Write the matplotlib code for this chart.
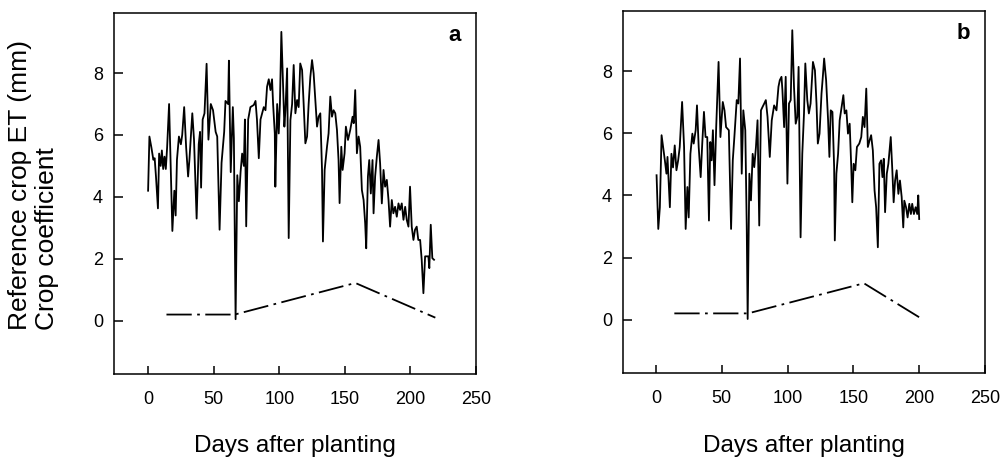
import numpy as np
import matplotlib
matplotlib.use('Agg')
import matplotlib.pyplot as plt

plt.rcParams['font.family'] = ['Liberation Sans', 'DejaVu Sans']

# ---------------- panel a : reference crop ET ----------------
days_a = [0, 1, 2.5, 4, 5, 6, 7.5, 8.4, 9.6, 10.5, 11.5, 12.5, 13.5, 14.5, 16, 18.5, 20, 21, 22, 23.5,
          25, 26, 27.5, 29, 30.5, 31.5, 33.7, 35, 37, 38.6, 39.6, 40.4, 41.6, 43, 44.6, 46, 47.8, 49.5,
          51.5, 52.7, 54.5, 56, 58, 59, 61, 61.6, 63, 64.6, 65.4, 66.7, 68, 69.2, 70.5, 71.7, 73, 73.8,
          74.8, 76.3, 78, 80.6, 81.9, 83, 84.4, 85.7, 88.2, 89.5, 90.7, 92, 93.3, 94.5, 95.3, 96.6, 97,
          98.4, 99.6, 100.5, 101.6, 102.9, 103.9, 104.7, 106, 107.2, 108.5, 109.8, 111, 112.3, 113.6,
          114.8, 116, 117.4, 118.6, 119.9, 121.2, 122.4, 123.7, 125, 126.2, 127.5, 128.8, 130, 131.3,
          132.6, 133.3, 134.6, 136.4, 137.6, 138.9, 140.2, 141.4, 142.7, 144, 145.2, 146, 147.3, 148.3,
          149.8, 150.8, 152.4, 154.1, 155.9, 156.8, 157.9, 159.2, 160.5, 161.7, 163, 164.3, 165.5, 166.3,
          167.6, 168.6, 169.8, 171.1, 171.9, 173.1, 174.4, 175.7, 176.9, 178.2, 179.5, 180.7, 182, 183.3,
          184.5, 185.8, 187, 188.3, 189.6, 190.9, 192.1, 193.4, 194.7, 196, 197.2, 198.5, 199.7, 201,
          202.3, 203.5, 204.8, 206, 207.4, 208.6, 209.9, 211.2, 212.4, 213.7, 214.4, 215.5, 216.7, 218]
et_a = [4.2, 5.95, 5.6, 5.2, 5.25, 4.66, 3.63, 5.4, 5.0, 5.5, 4.9, 5.3, 4.9, 5.6, 7.0, 2.9, 4.2, 3.4, 5.2, 5.95,
        5.7, 6.0, 6.9, 5.6, 4.66, 5.2, 6.7, 5.85, 3.3, 5.7, 6.1, 4.3, 6.5, 6.7, 8.3, 5.85, 7.0, 6.8,
        6.1, 5.95, 2.94, 5.1, 6.1, 7.1, 7.0, 8.4, 4.8, 6.9, 5.9, 0.05, 4.7, 3.86, 4.8, 5.4, 5.0, 6.5,
        3.05, 6.5, 6.9, 6.97, 7.1, 6.5, 5.25, 6.5, 6.9, 6.8, 7.56, 7.8, 7.45, 7.8, 7.0, 6.05, 4.33,
        7.0, 6.05, 7.0, 9.33, 7.56, 6.27, 6.8, 8.15, 2.67, 6.48, 7.0, 8.26, 6.7, 7.13,
        6.9, 8.31, 8.1, 7.0, 5.73, 5.95, 7.0, 7.88, 8.42, 7.99, 7.13, 6.27, 6.59, 6.7,
        4.87, 2.56, 4.87, 5.62, 6.05, 7.24, 6.59, 6.8, 6.7, 6.16, 5.19, 3.8, 5.62, 4.87,
        5.41, 6.27, 5.84, 6.16, 6.59, 6.38, 7.45, 5.41, 5.95, 5.62, 4.22, 3.9, 3.15, 2.34,
        4.66, 5.19, 4.11, 5.19, 3.47, 4.66, 5.3, 5.84, 5.08, 3.79, 4.87, 4.33, 4.55, 3.9,
        3.04, 3.9, 3.47, 3.68, 3.36, 3.79, 3.58, 3.79, 3.26, 3.68, 3.26, 3.04, 4.33, 3.04,
        2.61, 2.94, 3.04, 2.61, 2.61, 1.97, 0.89, 2.08, 2.08, 2.08, 1.7, 3.1, 2.02, 1.97]
kc_days_a = [14, 66, 158, 219]
kc_a = [0.2, 0.2, 1.22, 0.1]

# ---------------- panel b : reference crop ET ----------------
days_b = [0.5, 1.8, 3, 4.3, 5.5, 6.8, 8, 8.8, 10.6, 11.8, 13, 14.3, 15.6, 16.9, 18.1, 19.9, 21.4, 22.6,
          23.9, 24.9, 26.2, 27.7, 28.7, 30.2, 31.2, 32.5, 34, 35.2, 36.5, 37.7, 39, 40.3, 41.3, 42.3,
          43.3, 44.5, 45.8, 47.6, 49, 50.8, 52.1, 53.3, 55.4, 57.1, 58.4, 59.6, 61.4, 62.6, 63.9, 65.2,
          66.4, 67.9, 69, 69.7, 71, 72.2, 73.5, 74.7, 76, 77.2, 78.5, 79.8, 81, 82.3, 83.5, 84.8, 86.5,
          88, 89.8, 91.6, 93.1, 94.1, 95.4, 96.1, 97.4, 98.6, 99.9, 101.1, 102.4, 103.6, 104.9, 106.2,
          107.4, 108.4, 109.9, 111.2, 112.5, 113.5, 115, 116.2, 117.5, 119.3, 120.8, 122, 123, 124.3,
          125.8, 126.8, 127.8, 129.3, 130.8, 131.8, 132.8, 134.1, 135.4, 135.9, 137.1, 138.4, 139.6,
          140.9, 142.4, 143.4, 144.7, 145.9, 147.2, 148.4, 149.2, 150.2, 151.5, 152.7, 154.5, 156,
          157.2, 158.5, 159.8, 161, 162.3, 163.5, 164.8, 166.1, 167.3, 168.6, 169.8, 171.1, 172.1,
          173.1, 174.1, 175.4, 176.6, 178.4, 179.6, 180.6, 181.7, 182.9, 184.2, 185.4, 186.7, 187.9,
          188.7, 190, 191.2, 192.5, 193.7, 194.7, 196, 197.3, 198.5, 199.3, 200]
et_b = [4.65, 2.92, 3.62, 5.94, 5.56, 5.13, 4.7, 5.24, 3.62, 5.34, 4.9, 5.61, 4.81, 5.13, 5.56, 7.01, 5.56, 2.92,
        4.27, 3.29, 5.34, 5.99, 5.67, 6.1, 6.9, 5.56, 4.59, 5.67, 6.69, 5.88, 5.88, 3.19, 5.72, 5.13,
        6.1, 4.33, 6.2, 8.3, 5.88, 7.01, 6.74, 6.2, 6.1, 2.92, 5.13, 5.88, 7.07, 6.96, 8.41, 4.7,
        6.74, 6.1, 3.0, 0.02, 4.7, 3.84, 5.34, 4.91, 5.56, 6.42, 3.03, 6.74, 6.85, 6.96, 7.07, 6.53, 5.24,
        6.42, 6.9, 6.74, 7.5, 7.71, 7.82, 7.39, 6.2, 7.82, 4.38, 6.96, 7.07, 9.32, 7.5, 6.31,
        6.53, 8.14, 2.65, 5.34, 6.64, 8.25, 7.07, 6.64, 6.96, 8.3, 8.03, 6.96, 5.67, 5.99,
        7.28, 7.82, 8.41, 7.71, 6.42, 5.24, 6.74, 6.69, 4.91, 2.55, 4.7, 5.34, 6.42,
        6.8, 7.23, 6.64, 6.74, 5.99, 6.31, 4.91, 3.78, 5.02, 4.81, 5.56, 5.67, 5.88,
        6.53, 6.2, 7.44, 5.56, 5.77, 5.94, 5.45, 4.16, 3.62, 2.33, 5.02, 5.13, 4.59,
        5.18, 3.46, 4.7, 5.02, 5.88, 4.81, 3.78, 4.48, 4.81, 4.05, 4.48, 3.95, 2.97,
        3.83, 3.62, 3.29, 3.73, 3.40, 3.73, 3.40, 3.62, 3.40, 4.0, 3.24]
kc_days_b = [14, 70, 158, 201]
kc_b = [0.2, 0.2, 1.17, 0.05]

xticks = [0, 50, 100, 150, 200, 250]
yticks = [0, 2, 4, 6, 8]

W, H = 1005, 458
fig = plt.figure(figsize=(W / 100, H / 100), dpi=100)
ax1 = fig.add_axes([114 / W, 1 - 374 / H, 362 / W, 361 / H])
ax2 = fig.add_axes([623 / W, 1 - 373 / H, 362 / W, 362 / H])

panels = [(ax1, days_a, et_a, kc_days_a, kc_a, 'a', -26),
          (ax2, days_b, et_b, kc_days_b, kc_b, 'b', -25)]

for ax, d, et, kd, kc, tag, xmin in panels:
    ax.plot(d, et, color='black', lw=1.3)
    ax.plot(kd, kc, color='black', lw=1.3, dashes=(14, 3, 1.5, 3))
    ax.set_xlim(xmin, 250)
    ax.set_ylim(-1.72, 9.94)
    ax.set_xticks(xticks)
    ax.set_yticks(yticks)
    ax.tick_params('x', direction='in', length=6, width=1.1, labelsize=13, pad=12.5)
    ax.tick_params('y', direction='in', length=6.5, width=1.1, labelsize=13, pad=8)
    for s in ax.spines.values():
        s.set_linewidth(1.1)
    ax.text(0.94, 0.922, tag, transform=ax.transAxes, ha='center', va='baseline',
            fontsize=16, fontweight='bold')
    pos = ax.get_position()
    fig.text((pos.x0 + pos.x1) / 2, 1 - 446 / H, 'Days after planting',
             ha='center', va='center', fontsize=17.5)

fig.text(20 / W, 1 - 330 / H, 'Reference crop ET (mm)', rotation=90,
         ha='center', va='bottom', fontsize=19)
fig.text(47 / W, 1 - 330 / H, 'Crop coefficient', rotation=90,
         ha='center', va='bottom', fontsize=19)

plt.savefig('out.png', dpi=100)
